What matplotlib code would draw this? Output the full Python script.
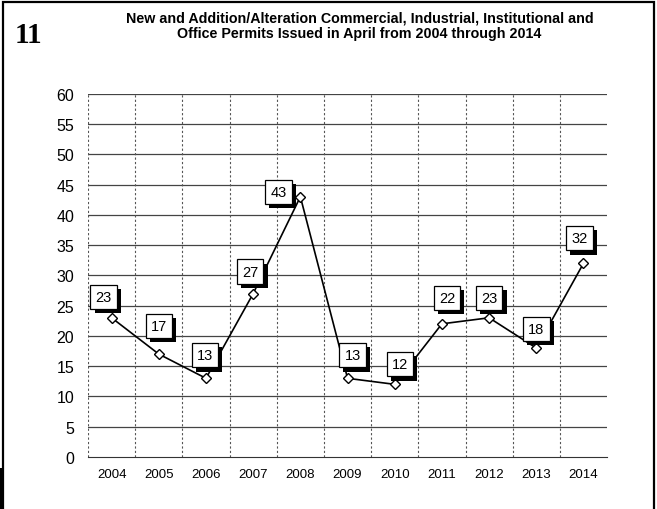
import matplotlib.pyplot as plt
import matplotlib.patheffects as pe
from matplotlib.patches import Rectangle

# April permit counts, 2004-2014
years = ['2004', '2005', '2006', '2007', '2008', '2009', '2010', '2011', '2012', '2013', '2014']
permits = [23, 17, 13, 27, 43, 13, 12, 22, 23, 18, 32]

# label box offsets from each point, in pixels
label_dx = [-8, 0, -1, -3, -22, 5, 5, 5, 0, 0, -4]
label_dy = [21, 28, 23, 22, 5, 23, 20, 26, 20, 19, 25]

fig = plt.figure(figsize=(6.57, 5.10), dpi=100)
plt.rcParams['font.family'] = ['Liberation Sans', 'DejaVu Sans']

# outer frame of the page
fig.add_artist(Rectangle((0.004, -0.01), 0.992, 1.005, transform=fig.transFigure,
                         fill=False, edgecolor='black', linewidth=1.6))
fig.add_artist(Rectangle((0.0, 0.0), 0.006, 0.08, transform=fig.transFigure,
                         facecolor='black', edgecolor='none'))

fig.text(0.022, 0.93, '11', fontsize=21, fontweight='bold', family='Liberation Serif',
         va='center')
fig.text(0.547, 0.964, 'New and Addition/Alteration Commercial, Industrial, Institutional and',
         ha='center', va='center', fontsize=10.3, fontweight='bold')
fig.text(0.547, 0.934, 'Office Permits Issued in April from 2004 through 2014',
         ha='center', va='center', fontsize=10.3, fontweight='bold')

ax = fig.add_axes([0.134, 0.102, 0.790, 0.712])
x = list(range(len(years)))
ax.plot(x, permits, color='black', linewidth=1.2, marker='D', markersize=5.5,
        markerfacecolor='white', markeredgecolor='black', markeredgewidth=1, zorder=3)

ax.set_xlim(-0.5, len(years) - 0.5)
ax.set_ylim(0, 60)
ax.set_yticks(range(0, 61, 5))
ax.set_xticks(x)
ax.set_xticklabels(years, fontsize=9.5)
ax.tick_params(axis='y', labelsize=11.5, length=0, pad=10)
ax.tick_params(axis='x', length=0, pad=8)

# horizontal gridlines solid, category separators dashed
for yv in range(5, 61, 5):
    ax.axhline(yv, color='#444444', linewidth=0.9, zorder=1)
for xv in range(0, len(years)):
    ax.axvline(xv - 0.5, color='#555555', linewidth=0.8, linestyle=(0, (2, 2)), zorder=1)
ax.axvline(len(years) - 0.5, color='#888888', linewidth=0.6, linestyle=(0, (2, 3)), zorder=1)

for s in ['top', 'right', 'left']:
    ax.spines[s].set_visible(False)
ax.spines['bottom'].set_color('#333333')

for i, v in enumerate(permits):
    t = ax.annotate(str(v), (x[i], v), xytext=(label_dx[i], label_dy[i]),
                    textcoords='offset pixels', ha='center', va='center', fontsize=10.5,
                    bbox=dict(boxstyle='square,pad=0.35', facecolor='white',
                              edgecolor='black', linewidth=0.9), zorder=5)
    t.get_bbox_patch().set_path_effects([
        pe.SimplePatchShadow(offset=(3, -3), shadow_rgbFace='black', alpha=1.0),
        pe.Normal()])

fig.savefig('out.png', dpi=100)
